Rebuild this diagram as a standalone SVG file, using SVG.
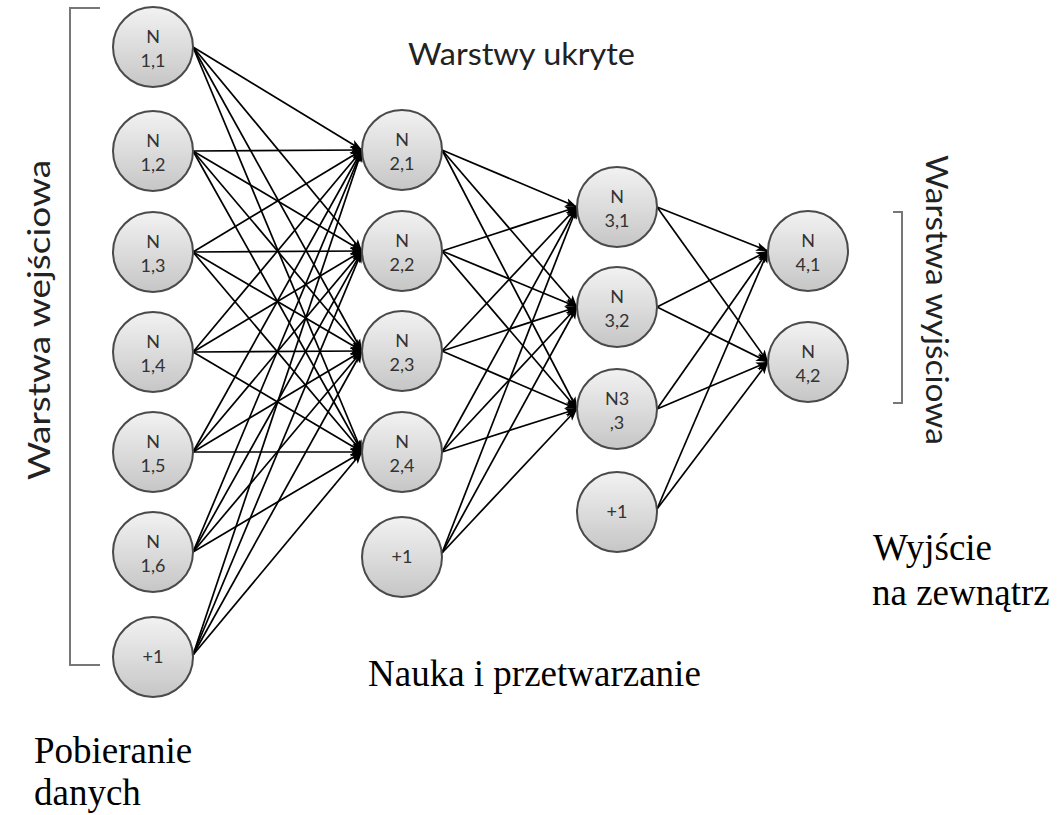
<svg xmlns="http://www.w3.org/2000/svg" width="1057" height="815" viewBox="0 0 1057 815">
<style>
.node circle{fill:url(#g);stroke:#4a4a4a;stroke-width:2}
.node text{font-family:Lato,"Open Sans",sans-serif;font-size:18px;fill:#333;text-anchor:middle}
.edges line{stroke:#000;stroke-width:1.7;marker-end:url(#arr)}
.lbl{font-family:Lato,"Open Sans",sans-serif;fill:#222}
.ser{font-family:"Liberation Serif","Times New Roman",serif;font-size:37px;fill:#000}
.br{fill:none;stroke:#777;stroke-width:2}
</style>
<defs>
<linearGradient id="g" x1="0" y1="0" x2="0" y2="1">
<stop offset="0" stop-color="#f2f2f2"/>
<stop offset="1" stop-color="#c6c6c6"/>
</linearGradient>
<marker id="arr" markerWidth="13" markerHeight="11" refX="12" refY="5.5" orient="auto" markerUnits="userSpaceOnUse">
<path d="M0,1 L12,5.5 L0,10 L3,5.5 z" fill="#000"/>
</marker>
</defs>
<rect width="1057" height="815" fill="#fff"/>

<g id="brackets">
<path class="br" d="M100,8 H70 V665 H100"/>
<path class="br" d="M893,212 H902 V403 H893"/>
</g>

<g id="connectors" class="edges">
<line x1="193" y1="47" x2="362" y2="150"/><line x1="193" y1="47" x2="362" y2="251"/><line x1="193" y1="47" x2="362" y2="351"/><line x1="193" y1="47" x2="362" y2="452"/>
<line x1="193" y1="151" x2="362" y2="150"/><line x1="193" y1="151" x2="362" y2="251"/><line x1="193" y1="151" x2="362" y2="351"/><line x1="193" y1="151" x2="362" y2="452"/>
<line x1="193" y1="252" x2="362" y2="150"/><line x1="193" y1="252" x2="362" y2="251"/><line x1="193" y1="252" x2="362" y2="351"/><line x1="193" y1="252" x2="362" y2="452"/>
<line x1="193" y1="352" x2="362" y2="150"/><line x1="193" y1="352" x2="362" y2="251"/><line x1="193" y1="352" x2="362" y2="351"/><line x1="193" y1="352" x2="362" y2="452"/>
<line x1="193" y1="452" x2="362" y2="150"/><line x1="193" y1="452" x2="362" y2="251"/><line x1="193" y1="452" x2="362" y2="351"/><line x1="193" y1="452" x2="362" y2="452"/>
<line x1="193" y1="552" x2="362" y2="150"/><line x1="193" y1="552" x2="362" y2="251"/><line x1="193" y1="552" x2="362" y2="351"/><line x1="193" y1="552" x2="362" y2="452"/>
<line x1="193" y1="655" x2="362" y2="150"/><line x1="193" y1="655" x2="362" y2="251"/><line x1="193" y1="655" x2="362" y2="351"/><line x1="193" y1="655" x2="362" y2="452"/>
<line x1="442" y1="150" x2="577" y2="207"/><line x1="442" y1="150" x2="577" y2="307"/><line x1="442" y1="150" x2="577" y2="409"/>
<line x1="442" y1="251" x2="577" y2="207"/><line x1="442" y1="251" x2="577" y2="307"/><line x1="442" y1="251" x2="577" y2="409"/>
<line x1="442" y1="351" x2="577" y2="207"/><line x1="442" y1="351" x2="577" y2="307"/><line x1="442" y1="351" x2="577" y2="409"/>
<line x1="442" y1="452" x2="577" y2="207"/><line x1="442" y1="452" x2="577" y2="307"/><line x1="442" y1="452" x2="577" y2="409"/>
<line x1="442" y1="553" x2="577" y2="207"/><line x1="442" y1="553" x2="577" y2="307"/><line x1="442" y1="553" x2="577" y2="409"/>
<line x1="657" y1="207" x2="768" y2="251"/><line x1="657" y1="207" x2="768" y2="362"/>
<line x1="657" y1="307" x2="768" y2="251"/><line x1="657" y1="307" x2="768" y2="362"/>
<line x1="657" y1="409" x2="768" y2="251"/><line x1="657" y1="409" x2="768" y2="362"/>
<line x1="657" y1="509" x2="768" y2="251"/><line x1="657" y1="509" x2="768" y2="362"/>
</g>

<g id="n11" class="node"><circle cx="153" cy="47" r="40"/><text x="153" y="43">N</text><text x="153" y="67">1,1</text></g>
<g id="n12" class="node"><circle cx="153" cy="151" r="40"/><text x="153" y="147">N</text><text x="153" y="171">1,2</text></g>
<g id="n13" class="node"><circle cx="153" cy="252" r="40"/><text x="153" y="248">N</text><text x="153" y="272">1,3</text></g>
<g id="n14" class="node"><circle cx="153" cy="352" r="40"/><text x="153" y="348">N</text><text x="153" y="372">1,4</text></g>
<g id="n15" class="node"><circle cx="153" cy="452" r="40"/><text x="153" y="448">N</text><text x="153" y="472">1,5</text></g>
<g id="n16" class="node"><circle cx="153" cy="552" r="40"/><text x="153" y="548">N</text><text x="153" y="572">1,6</text></g>
<g id="b1" class="node"><circle cx="153" cy="657" r="40"/><text x="153" y="663">+1</text></g>

<g id="n21" class="node"><circle cx="402" cy="150" r="40"/><text x="402" y="146">N</text><text x="402" y="170">2,1</text></g>
<g id="n22" class="node"><circle cx="402" cy="251" r="40"/><text x="402" y="247">N</text><text x="402" y="271">2,2</text></g>
<g id="n23" class="node"><circle cx="402" cy="351" r="40"/><text x="402" y="347">N</text><text x="402" y="371">2,3</text></g>
<g id="n24" class="node"><circle cx="402" cy="452" r="40"/><text x="402" y="448">N</text><text x="402" y="472">2,4</text></g>
<g id="b2" class="node"><circle cx="402" cy="557" r="40"/><text x="402" y="563">+1</text></g>

<g id="n31" class="node"><circle cx="617" cy="207" r="40"/><text x="617" y="203">N</text><text x="617" y="227">3,1</text></g>
<g id="n32" class="node"><circle cx="617" cy="307" r="40"/><text x="617" y="303">N</text><text x="617" y="327">3,2</text></g>
<g id="n33" class="node"><circle cx="617" cy="409" r="40"/><text x="617" y="405">N3</text><text x="617" y="429">,3</text></g>
<g id="b3" class="node"><circle cx="617" cy="512" r="40"/><text x="617" y="518">+1</text></g>

<g id="n41" class="node"><circle cx="808" cy="251" r="40"/><text x="808" y="247">N</text><text x="808" y="271">4,1</text></g>
<g id="n42" class="node"><circle cx="808" cy="362" r="40"/><text x="808" y="358">N</text><text x="808" y="382">4,2</text></g>

<g id="labels">
<text class="lbl" x="408" y="65" font-size="30" textLength="227" lengthAdjust="spacingAndGlyphs">Warstwy ukryte</text>
<text class="lbl" transform="translate(50,480) rotate(-90)" font-size="31" textLength="320" lengthAdjust="spacingAndGlyphs">Warstwa wejściowa</text>
<text class="lbl" transform="translate(926,155) rotate(90)" font-size="30" textLength="290" lengthAdjust="spacingAndGlyphs">Warstwa wyjściowa</text>
<text class="ser" x="34" y="763">Pobieranie</text>
<text class="ser" x="34" y="805">danych</text>
<text class="ser" x="368" y="686">Nauka i przetwarzanie</text>
<text class="ser" x="873" y="560">Wyjście</text>
<text class="ser" x="872" y="605">na zewnątrz</text>
</g>
</svg>
